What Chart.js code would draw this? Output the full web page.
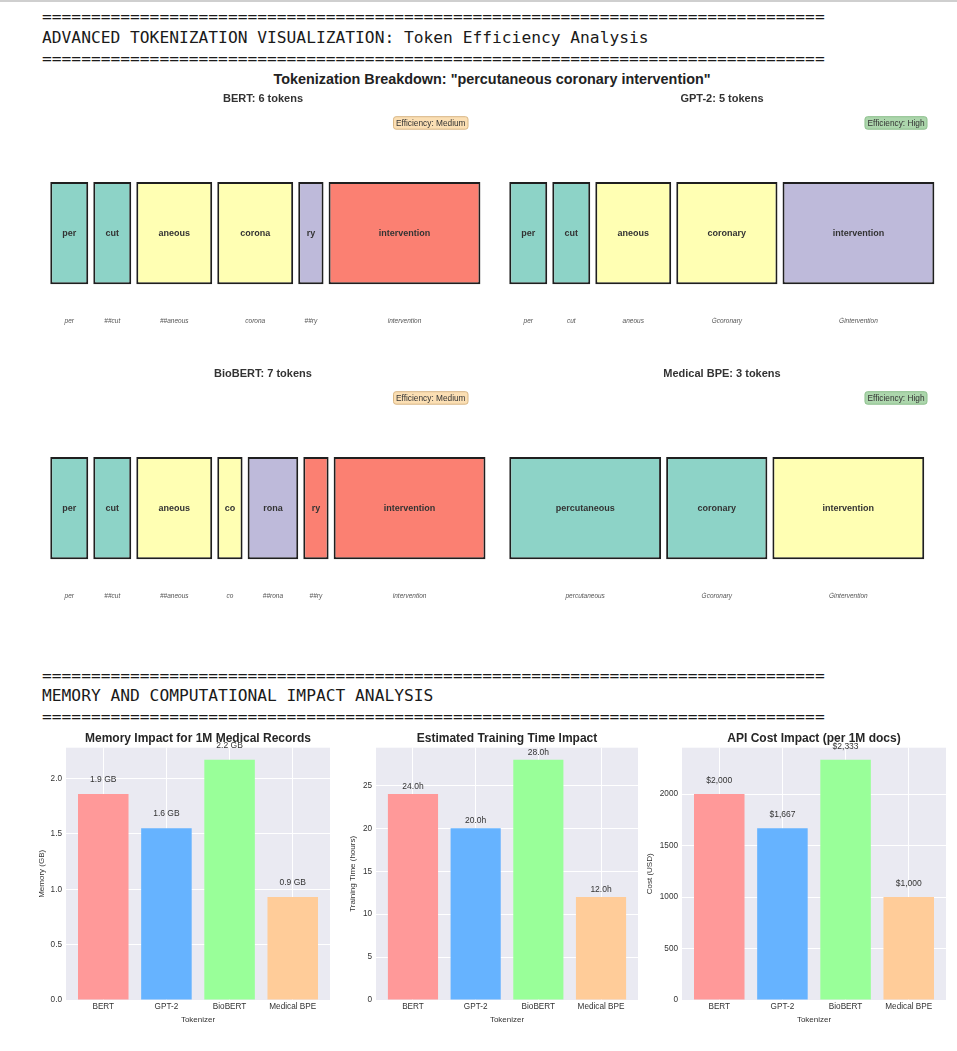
<!DOCTYPE html>
<html>
<head>
<meta charset="utf-8">
<script src="https://cdn.jsdelivr.net/npm/chart.js@4.4.1/dist/chart.umd.min.js"></script>
<style>
  html, body { margin: 0; padding: 0; background: #ffffff; }
  body { width: 957px; height: 1051px; position: relative; overflow: hidden; }
  .topbar { position: absolute; left: 0; top: 0; width: 957px; height: 2px; background: #cfcfcf; }
  .hdr { position: absolute; left: 42px; margin: 0; font-family: "DejaVu Sans Mono", "Liberation Mono", monospace;
         font-size: 16.25px; color: #1a1a1a; white-space: pre; }
  .suptitle { position: absolute; top: 70px; left: 492px; transform: translateX(-50%); white-space: nowrap;
              font-family: "Liberation Sans", Arial, sans-serif; font-weight: bold; font-size: 14.4px; color: #222; line-height: 18px; }
  canvas { position: absolute; }
</style>
</head>
<body>
<div class="topbar"></div>
<div class="hdr" id="hdr1" style="top:5.5px; line-height:21px;"></div>
<div class="suptitle" id="suptitle"></div>
<div class="hdr" id="hdr2" style="top:665.5px; line-height:20.6px;"></div>

<canvas id="pBert" width="450" height="269" style="left:38px; top:88px;"></canvas>
<canvas id="pGpt2" width="450" height="269" style="left:497px; top:88px;"></canvas>
<canvas id="pBiobert" width="450" height="269" style="left:38px; top:363px;"></canvas>
<canvas id="pMedbpe" width="450" height="269" style="left:497px; top:363px;"></canvas>

<canvas id="cMemory" width="310" height="300" style="left:30px; top:728px;"></canvas>
<canvas id="cTraining" width="308" height="300" style="left:340px; top:728px;"></canvas>
<canvas id="cCost" width="316" height="300" style="left:640px; top:728px;"></canvas>

<script>
// ---------------- DATA ----------------
const phrase = 'percutaneous coronary intervention';
const tokenizers = ['BERT', 'GPT-2', 'BioBERT', 'Medical BPE'];

const bertTokens = ['per', '##cut', '##aneous', 'corona', '##ry', 'intervention'];
const bertWidths = [3, 3, 6, 6, 2, 12];
const gpt2Tokens = ['per', 'cut', 'aneous', '\u0120coronary', '\u0120intervention'];
const gpt2Widths = [3, 3, 6, 8, 12];
const biobertTokens = ['per', '##cut', '##aneous', 'co', '##rona', '##ry', 'intervention'];
const biobertWidths = [3, 3, 6, 2, 4, 2, 12];
const medicalBpeTokens = ['percutaneous', '\u0120coronary', '\u0120intervention'];
const medicalBpeWidths = [12, 8, 12];

const efficiencyRatings = ['Medium', 'High', 'Medium', 'High'];

const memoryGB = [1.86, 1.55, 2.17, 0.93];
const trainingHours = [24, 20, 28, 12];
const apiCostUSD = [2000, 1666.67, 2333.33, 1000];

const memoryTicks = [0, 0.5, 1.0, 1.5, 2.0];
const trainingTicks = [0, 5, 10, 15, 20, 25];
const costTicks = [0, 500, 1000, 1500, 2000];

// ---------------- STYLES ----------------
const FONT = '"Liberation Sans", Arial, Helvetica, sans-serif';
Chart.defaults.font.family = FONT;
const SET3 = ['#8dd3c7', '#ffffb3', '#bebada', '#fb8072'];
const bertColorIdx = [0, 0, 1, 1, 2, 3];
const gpt2ColorIdx = [0, 0, 1, 1, 2];
const biobertColorIdx = [0, 0, 1, 1, 2, 3, 3];
const medicalBpeColorIdx = [0, 0, 1];
const barColors = ['#ff9999', '#66b3ff', '#99ff99', '#ffcc99'];
const badgeStyles = {
  Medium: { fill: '#fbdfb4', stroke: '#d8b684' },
  High:   { fill: '#acd6ac', stroke: '#8cbf8c' }
};

// ---------------- HEADERS ----------------
const eq = '='.repeat(80);
document.getElementById('hdr1').textContent = eq + '\nADVANCED TOKENIZATION VISUALIZATION: Token Efficiency Analysis\n' + eq;
document.getElementById('hdr2').textContent = eq + '\nMEMORY AND COMPUTATIONAL IMPACT ANALYSIS\n' + eq;
document.getElementById('suptitle').textContent = 'Tokenization Breakdown: "' + phrase + '"';

// ---------------- TOKEN PANELS ----------------
const tokenTextPlugin = {
  id: 'tokenText',
  afterDatasetsDraw(chart, args, opts) {
    const ctx = chart.ctx;
    const meta = chart.getDatasetMeta(0);
    ctx.save();
    meta.data.forEach((el, i) => {
      const p = el.getProps(['x', 'y', 'base', 'height'], true);
      const cx = (p.x + p.base) / 2;
      const raw = opts.tokens[i];
      const clean = raw.replace(/^##/, '').replace(/^\u0120/, '');
      ctx.textAlign = 'center';
      ctx.textBaseline = 'middle';
      ctx.fillStyle = '#333333';
      ctx.font = 'bold 9px ' + FONT;
      ctx.fillText(clean, cx, p.y);
      ctx.fillStyle = '#555555';
      ctx.font = 'italic 6.5px ' + FONT;
      ctx.fillText(raw, cx, p.y + p.height / 2 + 37);
    });
    // efficiency badge
    const txt = 'Efficiency: ' + opts.efficiency;
    const st = badgeStyles[opts.efficiency];
    ctx.font = '8.3px ' + FONT;
    const tw = ctx.measureText(txt).width;
    const padX = 2.5, h = 12.5;
    const right = chart.chartArea.right - 20;
    const top = chart.chartArea.top + 7.5;
    const left = right - tw - 2 * padX;
    ctx.beginPath();
    if (ctx.roundRect) ctx.roundRect(left, top, tw + 2 * padX, h, 2.5); else ctx.rect(left, top, tw + 2 * padX, h);
    ctx.fillStyle = st.fill;
    ctx.fill();
    ctx.lineWidth = 1;
    ctx.strokeStyle = st.stroke;
    ctx.stroke();
    ctx.fillStyle = '#333333';
    ctx.textAlign = 'left';
    ctx.textBaseline = 'middle';
    ctx.fillText(txt, left + padX, top + h / 2 + 0.5);
    ctx.restore();
  }
};

function tokenPanel(canvasId, name, tokens, widths, colorIdx, efficiency) {
  const GAP = 0.4;
  let pos = 0;
  const data = widths.map(w => {
    const item = { x: [pos, pos + w], y: 'tokens' };
    pos += w + GAP;
    return item;
  });
  new Chart(document.getElementById(canvasId), {
    type: 'bar',
    data: {
      labels: ['tokens'],
      datasets: [{
        data,
        backgroundColor: colorIdx.map(i => SET3[i]),
        borderColor: '#1f1f1f',
        borderWidth: 2,
        borderSkipped: false,
        categoryPercentage: 1,
        barPercentage: 0.412
      }]
    },
    options: {
      indexAxis: 'y',
      responsive: false,
      animation: false,
      layout: { padding: 0 },
      scales: {
        x: { type: 'linear', min: -0.97, max: 34.6, display: false },
        y: { type: 'category', display: false }
      },
      plugins: {
        legend: { display: false },
        tooltip: { enabled: false },
        title: {
          display: true,
          text: name + ': ' + tokens.length + ' tokens',
          font: { size: 11, weight: 'bold', family: FONT },
          color: '#333333',
          padding: { top: 4, bottom: 4 }
        },
        tokenText: { tokens, efficiency }
      }
    },
    plugins: [tokenTextPlugin]
  });
}

tokenPanel('pBert', tokenizers[0], bertTokens, bertWidths, bertColorIdx, efficiencyRatings[0]);
tokenPanel('pGpt2', tokenizers[1], gpt2Tokens, gpt2Widths, gpt2ColorIdx, efficiencyRatings[1]);
tokenPanel('pBiobert', tokenizers[2], biobertTokens, biobertWidths, biobertColorIdx, efficiencyRatings[2]);
tokenPanel('pMedbpe', tokenizers[3], medicalBpeTokens, medicalBpeWidths, medicalBpeColorIdx, efficiencyRatings[3]);

// ---------------- IMPACT CHARTS ----------------
const bgPlugin = {
  id: 'darkgridBg',
  beforeDraw(chart) {
    const { ctx, chartArea: a } = chart;
    ctx.save();
    ctx.fillStyle = '#eaeaf2';
    ctx.fillRect(a.left, a.top, a.right - a.left, a.bottom - a.top);
    ctx.restore();
  }
};
const valueLabelPlugin = {
  id: 'valueLabels',
  afterDatasetsDraw(chart, args, opts) {
    const { ctx } = chart;
    const yScale = chart.scales.y;
    const meta = chart.getDatasetMeta(0);
    ctx.save();
    ctx.font = '8.5px ' + FONT;
    ctx.fillStyle = '#333333';
    ctx.textAlign = 'center';
    ctx.textBaseline = 'bottom';
    meta.data.forEach((el, i) => {
      const v = opts.values[i];
      ctx.fillText(opts.format(v), el.x, yScale.getPixelForValue(v + opts.offset) + 1);
    });
    ctx.restore();
  }
};

function impactChart(id, title, yTitle, values, yTicks, tickFmt, labelFmt, labelOffset, axisWidth, yTitlePad) {
  new Chart(document.getElementById(id), {
    type: 'bar',
    data: {
      datasets: [{
        data: values.map((v, i) => ({ x: i, y: v })),
        backgroundColor: barColors,
        borderWidth: 0,
        barPercentage: 0.8,
        categoryPercentage: 1
      }]
    },
    options: {
      responsive: false,
      animation: false,
      layout: { padding: { left: 0, right: 10, top: 0, bottom: 0 } },
      scales: {
        x: {
          type: 'linear',
          offset: false,
          min: -0.59, max: tokenizers.length - 1 + 0.59,
          afterBuildTicks: s => { s.ticks = tokenizers.map((t, i) => ({ value: i })); },
          afterFit: s => { s.height = 28; },
          ticks: { callback: v => tokenizers[v], font: { size: 8.2 }, color: '#333333', padding: 2, maxRotation: 0, autoSkip: false },
          grid: { color: '#ffffff', lineWidth: 1, drawTicks: false, offset: false },
          border: { display: false },
          title: { display: true, text: 'Tokenizer', font: { size: 8 }, color: '#333333', padding: { top: 0, bottom: 3 } }
        },
        y: {
          type: 'linear',
          min: 0, max: Math.max(...values) * 1.05,
          afterBuildTicks: s => { s.ticks = yTicks.map(v => ({ value: v })); },
          afterFit: s => { s.width = axisWidth; },
          ticks: { callback: tickFmt, font: { size: 8.2 }, color: '#333333', padding: 4 },
          grid: { color: '#ffffff', lineWidth: 1, drawTicks: false },
          border: { display: false },
          title: { display: true, text: yTitle, font: { size: 8 }, color: '#333333', padding: { top: yTitlePad, bottom: 0 } }
        }
      },
      plugins: {
        legend: { display: false },
        tooltip: { enabled: false },
        title: {
          display: true, text: title, fullSize: false,
          font: { size: 12, weight: 'bold', family: FONT }, color: '#262626',
          padding: { top: 3, bottom: 2.3 }
        },
        valueLabels: { values, format: labelFmt, offset: labelOffset }
      }
    },
    plugins: [bgPlugin, valueLabelPlugin]
  });
}

impactChart('cMemory', 'Memory Impact for 1M Medical Records', 'Memory (GB)', memoryGB, memoryTicks,
  v => Number(v).toFixed(1), v => v.toFixed(1) + ' GB', 0.1, 36, 7.2);
impactChart('cTraining', 'Estimated Training Time Impact', 'Training Time (hours)', trainingHours, trainingTicks,
  v => String(v), v => v.toFixed(1) + 'h', 0.5, 36, 8.2);
impactChart('cCost', 'API Cost Impact (per 1M docs)', 'Cost (USD)', apiCostUSD, costTicks,
  v => String(v), v => '$' + Math.round(v).toLocaleString('en-US'), 100, 42, 5.2);
</script>
</body>
</html>
